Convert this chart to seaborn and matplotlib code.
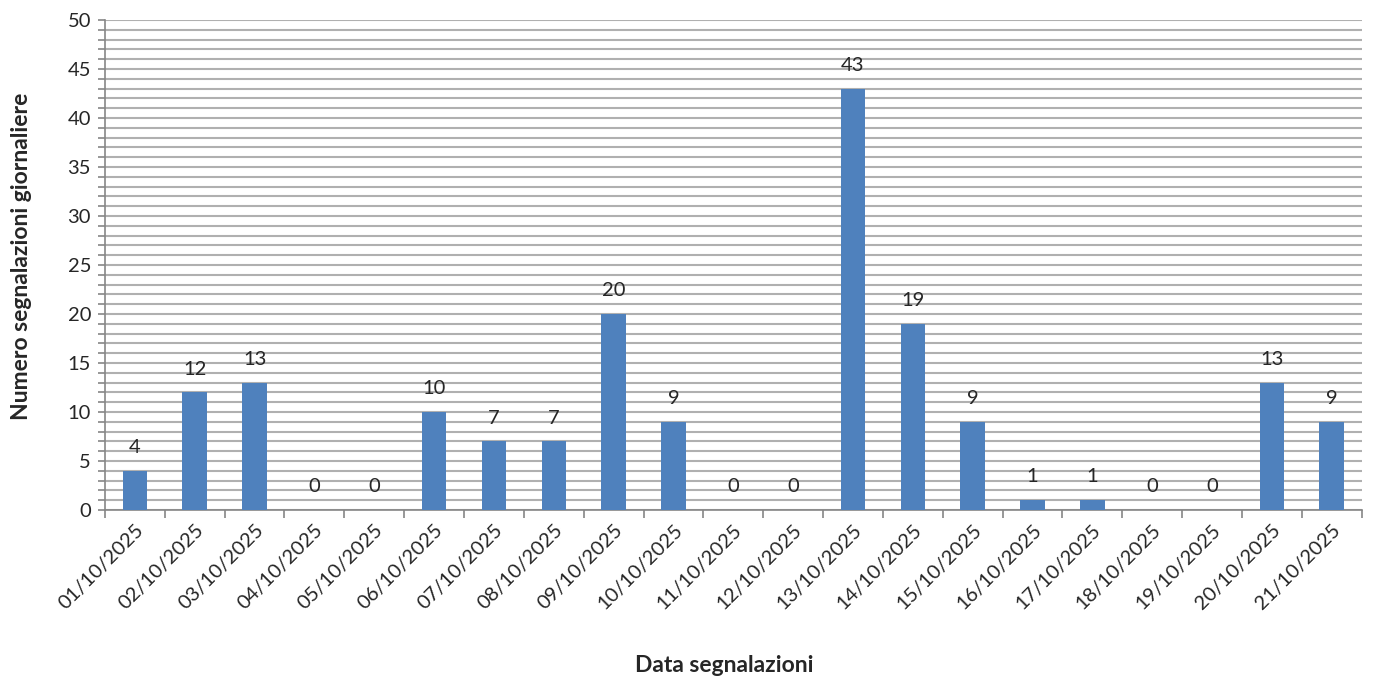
import pandas as pd
import matplotlib.pyplot as plt
import seaborn as sns
from matplotlib.ticker import MultipleLocator

# Daily report counts, October 2025
dates = ["01/10/2025", "02/10/2025", "03/10/2025", "04/10/2025", "05/10/2025",
         "06/10/2025", "07/10/2025", "08/10/2025", "09/10/2025", "10/10/2025",
         "11/10/2025", "12/10/2025", "13/10/2025", "14/10/2025", "15/10/2025",
         "16/10/2025", "17/10/2025", "18/10/2025", "19/10/2025", "20/10/2025",
         "21/10/2025"]
counts = [4, 12, 13, 0, 0, 10, 7, 7, 20, 9, 0, 0, 43, 19, 9, 1, 1, 0, 0, 13, 9]

df = pd.DataFrame({"data": dates, "n": counts})

sns.set_style("white")
plt.rcParams['font.family'] = ['Lato', 'DejaVu Sans']

fig = plt.figure(figsize=(13.74, 6.79), dpi=100)
ax = fig.add_axes([0.0764, 0.249, 0.9146, 0.7215])

sns.barplot(data=df, x="data", y="n", color="#4f81bd", saturation=1,
            width=0.41, linewidth=0, ax=ax, zorder=3)

ax.set_ylim(0, 50)
ax.set_xlim(-0.5, len(dates) - 0.5)
ax.yaxis.set_major_locator(MultipleLocator(5))
ax.yaxis.set_minor_locator(MultipleLocator(1))
ax.grid(axis="y", which="both", color="#b0b0b0", linewidth=1.5, zorder=0)
ax.set_axisbelow(True)

# value labels above each bar
for i, v in enumerate(counts):
    ax.text(i, v + 1.5, str(v), ha="center", va="bottom", fontsize=14.5)

# x ticks between categories, labels at the centres
ax.set_xticks([i - 0.5 for i in range(len(dates) + 1)])
ax.set_xticklabels([])
ax.set_xticks(range(len(dates)), minor=True)
ax.set_xticklabels(dates, minor=True, rotation=45, ha="right",
                   rotation_mode="anchor", fontsize=14.5)
ax.tick_params(axis="x", which="major", length=6, width=1.2, color="#868686",
               bottom=True)
ax.tick_params(axis="x", which="minor", length=0, pad=8)
ax.tick_params(axis="y", which="both", length=5, width=1.2, color="#868686",
               left=True, labelsize=14.5, pad=5)

for s in ["top", "right"]:
    ax.spines[s].set_visible(False)
for s in ["left", "bottom"]:
    ax.spines[s].set_color("#868686")
    ax.spines[s].set_linewidth(1.2)

ax.set_ylabel("")
ax.set_xlabel("")
fig.text(0.016, 0.622, "Numero segnalazioni giornaliere", rotation=90,
         ha="center", va="center", fontsize=16.5, fontweight="bold")
fig.text(0.527, 0.02, "Data segnalazioni", ha="center", va="center",
         fontsize=16.5, fontweight="bold")

fig.savefig("out.png", dpi=100)
